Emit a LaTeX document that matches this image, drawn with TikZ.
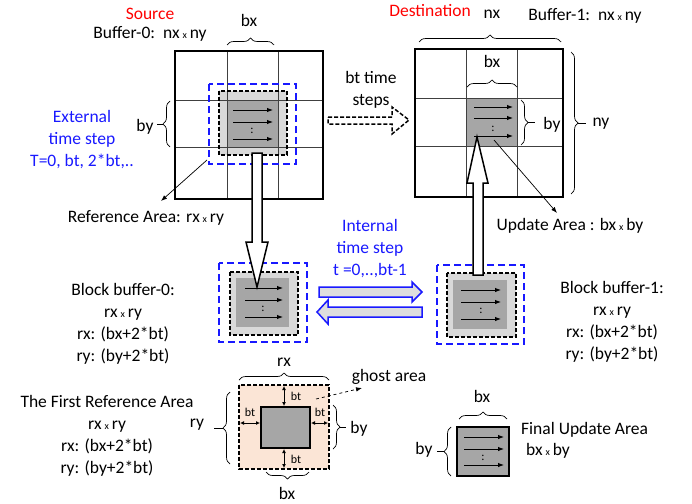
\documentclass[tikz,border=0pt]{standalone}
\usepackage{fontspec}
\setmainfont{Carlito}
\usepackage{tikz}
\usetikzlibrary{decorations.pathreplacing,arrows.meta}

\definecolor{srcred}{RGB}{255,0,0}
\definecolor{stepblue}{RGB}{25,25,255}
\definecolor{lightcell}{RGB}{217,217,217}
\definecolor{darkcell}{RGB}{166,166,166}
\definecolor{ghostfill}{RGB}{251,229,214}
\definecolor{arrowfill}{RGB}{222,222,222}

\newcommand{\tmx}{\,{\fontsize{10}{10}\selectfont x}\,}

\tikzset{
  txt/.style={font=\fontsize{17.5}{22}\selectfont,inner sep=1pt},
  smalltxt/.style={font=\fontsize{12}{12}\selectfont,inner sep=1pt},
  brc/.style={decorate,decoration={brace,amplitude=7pt},line width=0.7pt},
  tick/.style={line width=0.7pt},
  bluebox/.style={draw=stepblue,line width=1.7pt,dash pattern=on 7pt off 4pt},
  blackbox/.style={draw=black,line width=1.5pt,dash pattern=on 4pt off 2pt},
  gridline/.style={draw=black!75,line width=0.9pt},
  outer/.style={draw=black,line width=1.6pt},
  rowarrow/.style={-{Latex[length=6pt,width=4.5pt]},line width=0.9pt},
  pointer/.style={-{Latex[length=6pt,width=4.5pt]},line width=0.7pt},
  btarrow/.style={{Latex[length=4pt,width=4pt]}-{Latex[length=4pt,width=4pt]},line width=0.8pt},
  hollow/.style={draw=black,fill=white,line width=1.5pt,line join=miter},
}

\begin{document}
\begin{tikzpicture}[x=1pt,y=-1pt]
\useasboundingbox (0,0) rectangle (692,503);

% source buffer
\fill[lightcell] (219,91) rectangle (287,155);
\fill[darkcell] (227,100) rectangle (278,147);
\foreach \x in {227,278} \draw[gridline] (\x,51) -- (\x,199);
\foreach \y in {100,147} \draw[gridline] (175,\y) -- (323,\y);
\draw[outer] (175,51) rectangle (323,199);
\draw[bluebox] (209,84) rectangle (296,164);
\draw[blackbox] (219,91) rectangle (287,155);
\foreach \y in {110,122,139} \draw[rowarrow] (233,\y) -- (273,\y);
\node[smalltxt] (dots0) at (252,131) {:};

\node[txt,text=srcred] (src) at (150,14) {Source};
\node[txt] (buf0) at (150,34) {Buffer-0:\ \ nx\tmx ny};
\draw[brc] (227,45) -- (274,45);
\node[txt] (bx0) at (249,20) {bx};
\draw[brc] (170,147) -- (170,101);
\draw[tick] (163,124) -- (157,124);
\node[txt] (by0) at (145,127) {by};
\node[txt,text=stepblue,align=center] (ext) at (82,140) {External\\time step\\T=0, bt, 2*bt,..};

\coordinate (refstart) at (207,160);
\coordinate (refend) at (161,201);
\draw[pointer] (refstart) -- (refend);
\node[txt] (refarea) at (146,218) {Reference Area: rx\tmx ry};

% destination buffer
\fill[darkcell] (466,98) rectangle (517,146);
\foreach \x in {466,517} \draw[gridline] (\x,49) -- (\x,197);
\foreach \y in {98,146} \draw[gridline] (415,\y) -- (563,\y);
\draw[outer] (415,49) rectangle (563,197);
\foreach \y in {107,118,136} \draw[rowarrow] (474,\y) -- (513,\y);
\node[smalltxt] (dots1) at (493,129) {:};

\node[txt,text=srcred] (dst) at (430,11) {Destination};
\node[txt] (nx1) at (492,14) {nx};
\node[txt] (buf1) at (585,16) {Buffer-1:\ \ nx\tmx ny};
\draw[brc] (419,42) -- (561,42);
\draw[brc] (467,87) -- (517,87);
\node[txt] (bx1) at (492,61) {bx};
\draw[brc] (521,100) -- (521,145);
\draw[tick] (528,122) -- (535,122);
\node[txt] (by1) at (552,125) {by};
\draw[brc] (571,52) -- (571,194);
\draw[tick] (578,123) -- (586,123);
\node[txt] (ny1) at (601,124) {ny};

\node[txt,align=center] (btsteps) at (371,90) {bt time\\steps};
\draw[hollow,dash pattern=on 4pt off 2pt] (328,117) -- (392,117) -- (392,107) -- (409,120)
  -- (392,134) -- (392,124) -- (328,124) -- cycle;

\coordinate (updend) at (557,213);
\draw[pointer] (494,140) -- (updend);
\node[txt] (updarea) at (570,226) {Update Area : bx\tmx by};

% block buffers
\draw[bluebox] (219,263) rectangle (307,342);
\filldraw[blackbox,fill=lightcell] (230,272) rectangle (298,335);
\fill[darkcell] (236,278) rectangle (289,327);
\foreach \y in {288,300,317} \draw[rowarrow] (245,\y) -- (283,\y);
\node[smalltxt] (dots2) at (263,309) {:};
\node[txt,align=center] (blk0) at (123,324) {Block buffer-0:\\rx\tmx ry\\rx: (bx+2*bt)\\ry: (by+2*bt)};

\draw[bluebox] (437,265) rectangle (524,344);
\filldraw[blackbox,fill=lightcell] (447,273) rectangle (516,337);
\fill[darkcell] (453,280) rectangle (507,329);
\foreach \y in {290,302,319} \draw[rowarrow] (461,\y) -- (501,\y);
\node[smalltxt] (dots3) at (481,311) {:};
\node[txt,align=center] (blk1) at (612,322) {Block buffer-1:\\rx\tmx ry\\rx: (bx+2*bt)\\ry: (by+2*bt)};

% big copy arrows
\draw[hollow] (252,153) -- (262,153) -- (262,242) -- (268,242) -- (257,287)
  -- (246,242) -- (252,242) -- cycle;
\draw[hollow] (473,275) -- (473,183) -- (467,183) -- (477,137) -- (488,183)
  -- (483,183) -- (483,275) -- cycle;

% internal time step
\node[txt,text=stepblue,align=center] (int) at (370,249) {Internal\\time step\\t =0,..,bt-1};
\draw[draw=stepblue,fill=arrowfill,line width=1.5pt,line join=miter] (319,287) -- (412,287)
  -- (412,282) -- (422,292) -- (412,302) -- (412,297) -- (319,297) -- cycle;
\draw[draw=stepblue,fill=arrowfill,line width=1.5pt,line join=miter] (422,307) -- (328,307)
  -- (328,300) -- (317,312) -- (328,324) -- (328,317) -- (422,317) -- cycle;

% first reference area
\filldraw[blackbox,fill=ghostfill] (239,385) rectangle (329,469);
\filldraw[fill=darkcell,line width=1.5pt] (261,407) rectangle (310,448);
\draw[brc] (239,380) -- (329,380);
\node[txt] (rx2) at (284,362) {rx};
\draw[brc] (230,464) -- (230,392);
\draw[tick] (223,428) -- (214,428);
\node[txt] (ry2) at (197,425) {ry};
\draw[brc] (333,405) -- (333,449);
\draw[tick] (340,427) -- (346,427);
\node[txt] (by2) at (359,429) {by};
\draw[brc] (309,472) -- (266,472);
\node[txt] (bx2) at (287,493) {bx};
\draw[btarrow] (284,386) -- (284,406);
\draw[btarrow] (284,449) -- (284,468);
\draw[btarrow] (240,423) -- (260,423);
\draw[btarrow] (311,423) -- (328,423);
\node[smalltxt] (bt1) at (296,396) {bt};
\node[smalltxt] (bt2) at (296,459) {bt};
\node[smalltxt] (bt3) at (250,412) {bt};
\node[smalltxt] (bt4) at (320,412) {bt};
\node[txt] (ghost) at (389,377) {ghost area};
\draw[pointer,dashed] (316,399) -- (362,388);
\node[txt,align=center] (first) at (107,436) {The First Reference Area\\rx\tmx ry\\rx: (bx+2*bt)\\ry: (by+2*bt)};

% final update area
\filldraw[fill=darkcell,line width=1.5pt] (457,427) rectangle (509,476);
\foreach \y in {437,449,465} \draw[rowarrow] (464,\y) -- (504,\y);
\node[smalltxt] (dots4) at (483,458) {:};
\draw[brc] (459,419) -- (507,419);
\node[txt] (bx3) at (482,396) {bx};
\draw[brc] (451,476) -- (451,427);
\draw[tick] (444,451) -- (437,451);
\node[txt] (by3) at (424,450) {by};
\node[txt,anchor=west] (final) at (520,430) {Final Update Area};
\node[txt,anchor=west] (finalsz) at (525,451) {bx\tmx by};
\end{tikzpicture}
\end{document}
